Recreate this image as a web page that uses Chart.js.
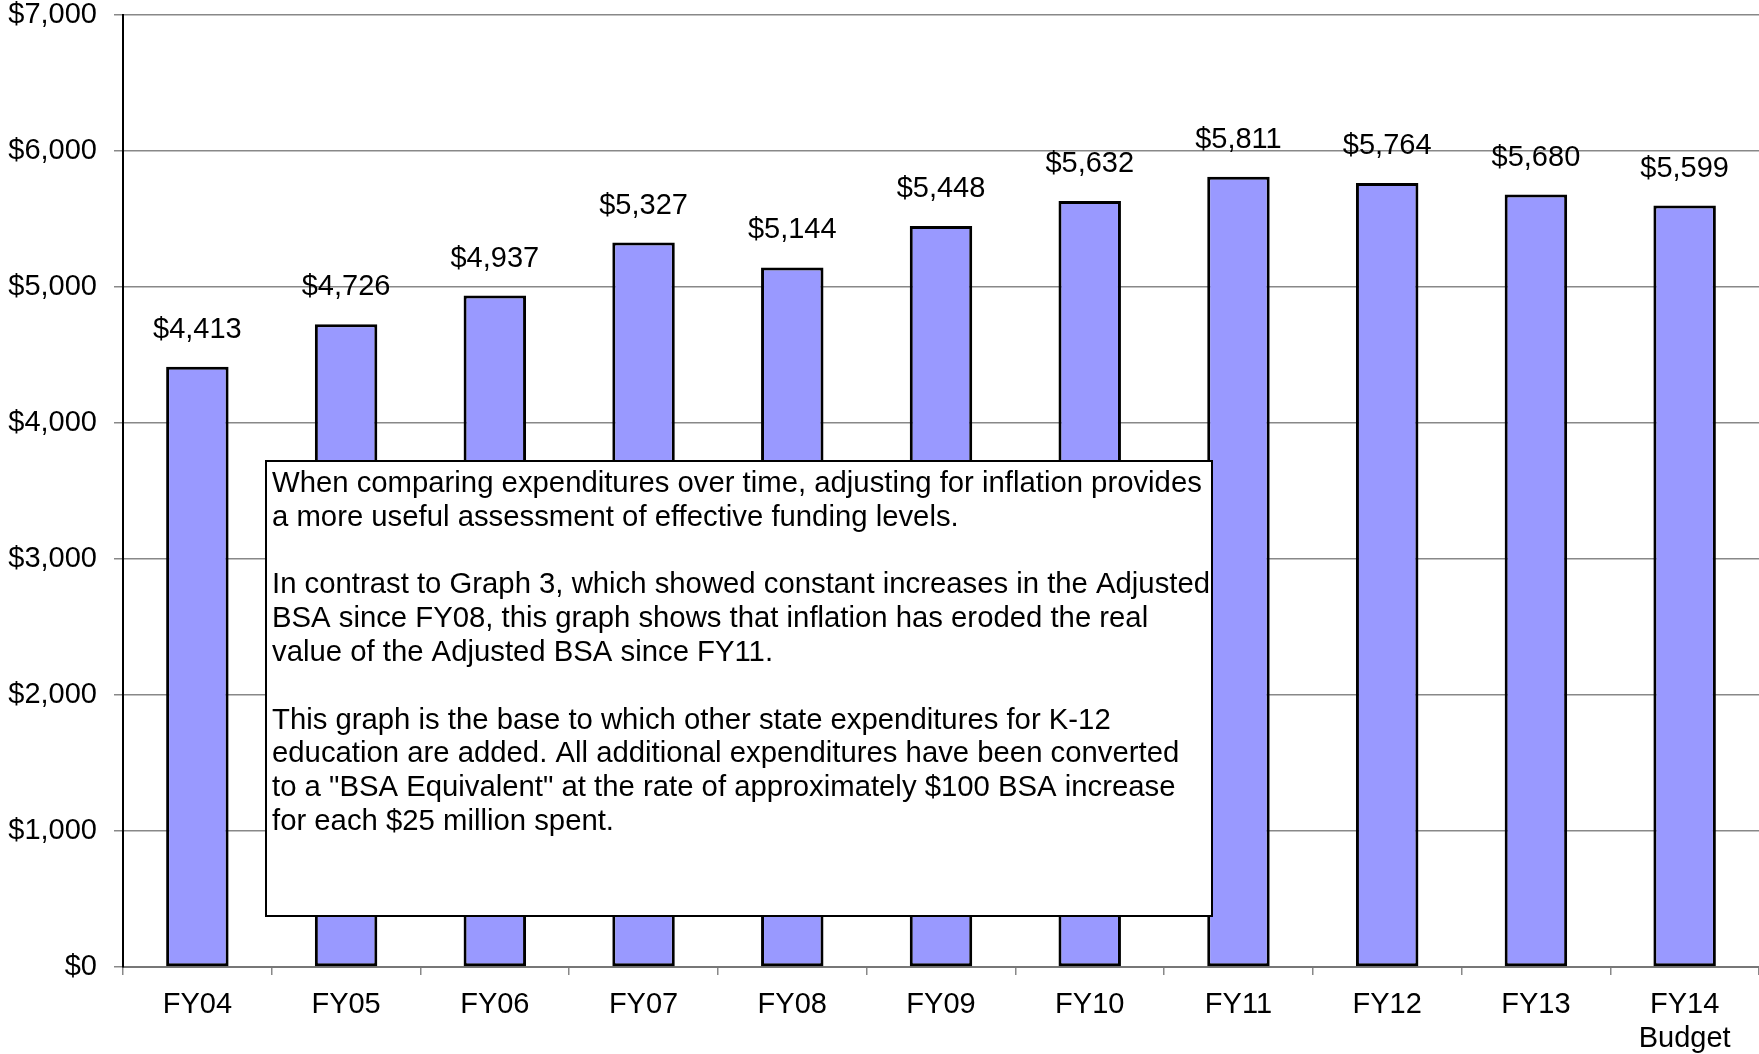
<!DOCTYPE html>
<html>
<head>
<meta charset="utf-8">
<title>Adjusted BSA in constant dollars</title>
<script src="https://cdn.jsdelivr.net/npm/chart.js@4"></script>
<style>
  html, body { margin: 0; padding: 0; background: #fff; }
  canvas { display: block; }
</style>
</head>
<body>
<canvas id="bsaChart" width="1759" height="1054"></canvas>
<script>
const categories = ['FY04', 'FY05', 'FY06', 'FY07', 'FY08', 'FY09', 'FY10', 'FY11', 'FY12', 'FY13', ['FY14', 'Budget']];
const bsaValues = [4413, 4726, 4937, 5327, 5144, 5448, 5632, 5811, 5764, 5680, 5599];
const yMax = 7000;
const yStep = 1000;

const noteLines = [
    'When comparing expenditures over time, adjusting for inflation provides',
    'a more useful assessment of effective funding levels.',
    '',
    'In contrast to Graph 3, which showed constant increases in the Adjusted',
    'BSA since FY08, this graph shows that inflation has eroded the real',
    'value of the Adjusted BSA since FY11.',
    '',
    'This graph is the base to which other state expenditures for K-12',
    'education are added. All additional expenditures have been converted',
    'to a "BSA Equivalent" at the rate of approximately $100 BSA increase',
    'for each $25 million spent.'
];

const FONT = "'Liberation Sans', Arial, sans-serif";
const money = v => '$' + v.toLocaleString('en-US');

// dollar labels above each bar
const valueLabels = {
    id: 'valueLabels',
    afterDatasetsDraw(chart) {
        const ctx = chart.ctx;
        const meta = chart.getDatasetMeta(0);
        ctx.save();
        ctx.font = '29px ' + FONT;
        ctx.fillStyle = '#000';
        ctx.textAlign = 'center';
        ctx.textBaseline = 'middle';
        meta.data.forEach((bar, i) => {
            ctx.fillText(money(bsaValues[i]), bar.x, bar.y - 37);
        });
        ctx.restore();
    }
};

// the white explanation box sitting over the bars
const noteBox = {
    id: 'noteBox',
    afterDatasetsDraw(chart) {
        const ctx = chart.ctx;
        const area = chart.chartArea;
        const x = area.left + 143;
        const y = area.top + 446;
        const w = 946;
        const h = 455;
        ctx.save();
        ctx.fillStyle = '#fff';
        ctx.fillRect(x, y, w, h);
        ctx.strokeStyle = '#000';
        ctx.lineWidth = 2;
        ctx.strokeRect(x, y, w, h);
        ctx.font = '29.3px ' + FONT;
        ctx.fillStyle = '#000';
        ctx.textAlign = 'left';
        ctx.textBaseline = 'middle';
        noteLines.forEach((line, i) => {
            ctx.fillText(line, x + 6, y + 23 + i * 33.8);
        });
        ctx.restore();
    }
};

const ctx = document.getElementById('bsaChart').getContext('2d');
new Chart(ctx, {
    type: 'bar',
    data: {
        labels: categories,
        datasets: [{
            label: 'Adjusted BSA',
            data: bsaValues,
            backgroundColor: '#9999FF',
            borderColor: '#000',
            borderWidth: 3,
            borderSkipped: false,
            categoryPercentage: 1,
            barPercentage: 0.42
        }]
    },
    options: {
        responsive: false,
        animation: false,
        layout: { padding: 0 },
        plugins: {
            legend: { display: false },
            tooltip: { enabled: false }
        },
        scales: {
            x: {
                offset: true,
                grid: {
                    offset: true,
                    drawOnChartArea: false,
                    drawTicks: true,
                    tickLength: 8,
                    color: '#888',
                    lineWidth: 1.5
                },
                border: { color: '#777', width: 2 },
                ticks: {
                    color: '#000',
                    padding: 13,
                    maxRotation: 0,
                    autoSkip: false,
                    font: { family: FONT, size: 29, lineHeight: 1.17 }
                },
                afterFit(scale) {
                    scale.height = 87;
                    scale.paddingLeft = 0;
                    scale.paddingRight = 0;
                }
            },
            y: {
                min: 0,
                max: yMax,
                grid: {
                    color: '#888',
                    lineWidth: 1.5,
                    tickLength: 9
                },
                border: { color: '#000', width: 2 },
                ticks: {
                    stepSize: yStep,
                    color: '#000',
                    padding: 17,
                    font: { family: FONT, size: 29 },
                    callback: v => money(v)
                },
                afterFit(scale) {
                    scale.width = 123;
                    scale.paddingTop = 15;
                    scale.paddingBottom = 0;
                }
            }
        }
    },
    plugins: [valueLabels, noteBox]
});
</script>
</body>
</html>
